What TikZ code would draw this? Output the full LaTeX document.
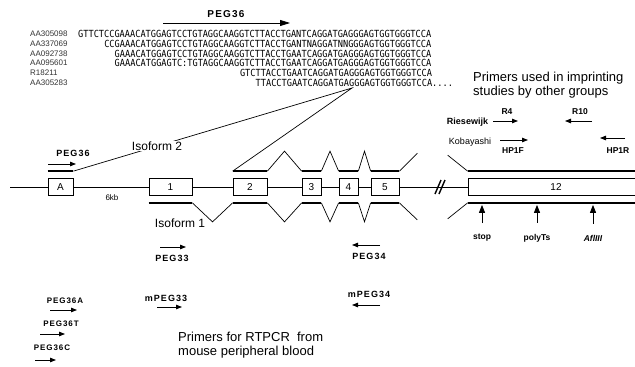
\documentclass[tikz,border=0pt]{standalone}
\usepackage{fontspec}
\setmainfont{Liberation Sans}
\newfontfamily\seqfont[FakeStretch=0.88]{DejaVu Sans Mono}
\newfontfamily\primfont[LetterSpace=12]{Liberation Sans}
\usetikzlibrary{arrows.meta,calc}

\begin{document}
\begin{tikzpicture}[
    x=1pt, y=-1pt,
    exon/.style={draw, line width=0.7pt, fill=white, minimum height=17pt, inner sep=0pt,
                 font=\fontsize{10}{10}\selectfont},
    intron/.style={line width=0.9pt},
    iso/.style={line width=2.4pt},
    splice/.style={line width=0.7pt},
    accname/.style={anchor=west, inner sep=0pt, font=\fontsize{8}{8}\selectfont, text=black!80},
    seqrow/.style={anchor=west, inner sep=0pt, font=\seqfont\fontsize{9.8}{9.8}\selectfont},
    primlbl/.style={inner sep=0pt, font=\primfont\bfseries\fontsize{9}{9}\selectfont},
    smalllbl/.style={inner sep=0pt, font=\bfseries\fontsize{8.5}{8.5}\selectfont},
    primarr/.style={-{Triangle[length=6pt, width=4.5pt]}, line width=0.8pt},
    tagarr/.style={-{Triangle[length=8pt, width=6pt]}, line width=0.9pt},
    note/.style={anchor=west, align=left, inner sep=0pt, font=\fontsize{13}{13.5}\selectfont},
    isolbl/.style={inner sep=1pt, font=\fontsize{12}{12}\selectfont},
  ]
  \useasboundingbox (0,0) rectangle (635,367);
  \def\cw{5.22}

  % --- EST alignment ---
  \foreach \nm/\y [count=\i] in {AA305098/34, AA337069/44, AA092738/54, AA095601/63, R18211/73, AA305283/83}
    \node[accname] (acc\i) at (30,\y) {\nm};
  \node[seqrow] (seq1) at (78,34) {GTTCTCCGAAACATGGAGTCCTGTAGGCAAGGTCTTACCTGANTCAGGATGAGGGAGTGGTGGGTCCA};
  \node[seqrow] (seq2) at (78+5*\cw,44) {CCGAAACATGGAGTCCTGTAGGCAAGGTCTTACCTGANTNAGGATNNGGGAGTGGTGGGTCCA};
  \node[seqrow] (seq3) at (78+7*\cw,54) {GAAACATGGAGTCCTGTAGGCAAGGTCTTACCTGAATCAGGATGAGGGAGTGGTGGGTCCA};
  \node[seqrow] (seq4) at (78+7*\cw,63) {GAAACATGGAGTC:TGTAGGCAAGGTCTTACCTGAATCAGGATGAGGGAGTGGTGGGTCCA};
  \node[seqrow] (seq5) at (78+31*\cw,73) {GTCTTACCTGAATCAGGATGAGGGAGTGGTGGGTCCA};
  \node[seqrow] (seq6) at (78+34*\cw,83) {TTACCTGAATCAGGATGAGGGAGTGGTGGGTCCA....};
  \coordinate (junc) at (352,88);

  \node[primlbl, font=\primfont\bfseries\fontsize{10}{10}\selectfont] (pegtop) at (226,14) {PEG36};
  \draw[line width=0.8pt, -{Triangle[length=10pt, width=6pt]}] (163,23) -- (290,23);

  % --- exons ---
  \node[exon, minimum width=25pt]  (exA)  at (60.5,187) {A};
  \node[exon, minimum width=43pt]  (ex1)  at (170.5,187) {1};
  \node[exon, minimum width=34pt]  (ex2)  at (250,187) {2};
  \node[exon, minimum width=19pt]  (ex3)  at (311.5,187) {3};
  \node[exon, minimum width=19pt]  (ex4)  at (348.5,187) {4};
  \node[exon, minimum width=28pt]  (ex5)  at (385,187) {5};
  \node[exon, minimum width=176pt] (ex12) at (556,187) {12};
  \coordinate (lend) at (10,187);
  \coordinate (brk) at (440,187);

  % --- introns ---
  \draw[intron] (lend) -- (exA.west);
  \foreach \a/\b in {exA/ex1, ex1/ex2, ex2/ex3, ex3/ex4, ex4/ex5, ex5/ex12}
    \draw[intron] (\a.east) -- (\b.west);
  \draw[line width=1.4pt] ($(brk)+(-5,7)$) -- ($(brk)+(1,-7)$);
  \draw[line width=1.4pt] ($(brk)+(-1,7)$) -- ($(brk)+(5,-7)$);

  % --- isoform 2 (above) ---
  \foreach \e in {exA, ex2, ex3, ex4, ex5, ex12}
    \draw[iso] ([yshift=7pt]\e.north west) coordinate (\e-ul) -- ([yshift=7pt]\e.north east) coordinate (\e-ur);
  \foreach \a/\b in {ex2/ex3, ex3/ex4, ex4/ex5}
    \draw[splice] (\a-ur) -- ($(\a-ur)!0.5!(\b-ul)+(0,-20)$) -- (\b-ul);
  \draw[splice] (ex5-ur) -- ++(18,-18);
  \draw[splice] (ex12-ul) -- ++(-20,-16);
  \draw[splice] (exA-ur) -- (junc) -- (ex2-ul);
  \node[isolbl, fill=white] (iso2) at (157,146) {Isoform 2};

  % --- isoform 1 (below) ---
  \foreach \e in {ex1, ex2, ex3, ex4, ex5, ex12}
    \draw[iso] ([yshift=-7pt]\e.south west) coordinate (\e-ll) -- ([yshift=-7pt]\e.south east) coordinate (\e-lr);
  \foreach \a/\b in {ex1/ex2, ex2/ex3, ex3/ex4, ex4/ex5}
    \draw[splice] (\a-lr) -- ($(\a-lr)!0.5!(\b-ll)+(0,19)$) -- (\b-ll);
  \draw[splice] (ex5-lr) -- ++(18,17);
  \draw[splice] (ex12-ll) -- ++(-20,16);
  \node[isolbl] (iso1) at (180,223) {Isoform 1};

  \node[inner sep=0pt, font=\fontsize{8}{8}\selectfont] (len) at (112,198) {6kb};

  % --- primers on the gene ---
  \node[primlbl] (peg36) at (73,153) {PEG36};
  \draw[primarr] (48,164) -- (76,164);
  \node[primlbl] (peg33) at (172,258) {PEG33};
  \draw[primarr] (160,247) -- (186,247);
  \node[primlbl] (peg34) at (369,256) {PEG34};
  \draw[primarr] (380,245) -- (352,245);

  % --- exon 12 features ---
  \node[smalllbl] (stop)   at (482,238) {stop};
  \node[smalllbl] (polyts) at (537,238) {polyTs};
  \node[smalllbl, font=\bfseries\itshape\fontsize{8.5}{8.5}\selectfont] (afl) at (593,238) {AflIII};
  \foreach \t in {stop, polyts, afl}
    \draw[tagarr, shorten <=11pt, shorten >=9pt] (\t.north) -- (\t.north |- ex12.south);

  % --- primers by other groups ---
  \node[inner sep=0pt, font=\bfseries\fontsize{9}{9}\selectfont] (ries) at (467.5,122) {Riesewijk};
  \node[inner sep=0pt, font=\fontsize{9}{9}\selectfont] (koba) at (470,142) {Kobayashi};
  \node[smalllbl] (r4)   at (507,112) {R4};
  \draw[primarr] (493,121) -- (518,121);
  \node[smalllbl] (r10)  at (580,112) {R10};
  \draw[primarr] (592,121) -- (565,121);
  \node[smalllbl] (hp1f) at (513,151) {HP1F};
  \draw[primarr] (500,140) -- (528,140);
  \node[smalllbl] (hp1r) at (618,151) {HP1R};
  \draw[primarr] (625,138) -- (600,138);
  \node[note] (other) at (473,85) {Primers used in imprinting\\studies by other groups};

  % --- RT-PCR primers ---
  \node[primlbl, font=\primfont\bfseries\fontsize{8}{8}\selectfont] (peg36a) at (65,301) {PEG36A};
  \draw[primarr] (50,310) -- (77,310);
  \node[primlbl, font=\primfont\bfseries\fontsize{8}{8}\selectfont] (peg36t) at (61,324) {PEG36T};
  \draw[primarr] (40,334) -- (65,334);
  \node[primlbl, font=\primfont\bfseries\fontsize{8}{8}\selectfont] (peg36c) at (52,348) {PEG36C};
  \draw[primarr] (35,360) -- (56,360);
  \node[primlbl] (mpeg33) at (166,298) {mPEG33};
  \draw[primarr] (157,307) -- (182,307);
  \node[primlbl] (mpeg34) at (369,294) {mPEG34};
  \draw[primarr] (380,305) -- (352,305);
  \node[note] (rtpcr) at (178,345) {Primers for RTPCR\ \ from\\mouse peripheral blood};
\end{tikzpicture}
\end{document}
